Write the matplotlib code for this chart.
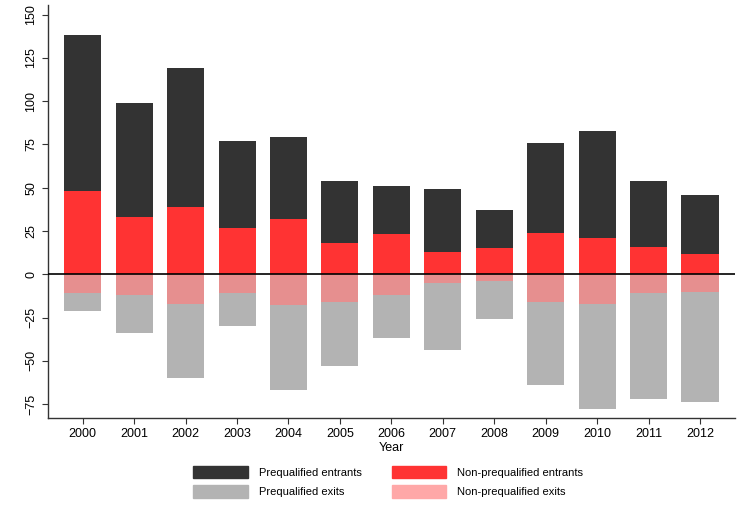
import numpy as np
import matplotlib
matplotlib.use('Agg')
import matplotlib.pyplot as plt
from matplotlib.patches import Patch

plt.rcParams['font.family'] = ['Liberation Sans', 'DejaVu Sans']

years = [2000, 2001, 2002, 2003, 2004, 2005, 2006,
         2007, 2008, 2009, 2010, 2011, 2012]
# entrants (total and the non-prequalified part)
entrants_total = [138, 99, 119, 77, 79, 54, 51, 49, 37, 76, 83, 54, 46]
entrants_nonpq = [48, 33, 39, 27, 32, 18, 23, 13, 15, 24, 21, 16, 12]
# exits (total and the non-prequalified part), shown below zero
exits_total = [21, 34, 60, 30, 67, 53, 37, 44, 26, 64, 78, 72, 74]
exits_nonpq = [11, 12, 17, 11, 18, 16, 12, 5, 4, 16, 17, 11, 10]

C_PQ_IN = '#333333'
C_NPQ_IN = '#ff3333'
C_PQ_OUT = '#b3b3b3'
C_NPQ_OUT = '#ff7f7f'

fig = plt.figure(figsize=(7.41, 5.29), dpi=100)
ax = fig.add_axes([0.0644, 0.2098, 0.9275, 0.7807])

x = np.array(years)
w = 0.72
ax.bar(x, entrants_total, width=w, color=C_PQ_IN, zorder=2)
ax.bar(x, entrants_nonpq, width=w, color=C_NPQ_IN, zorder=3)
ax.bar(x, -np.array(exits_total), width=w, color=C_PQ_OUT, zorder=2)
ax.bar(x, -np.array(exits_nonpq), width=w, color=C_NPQ_OUT, alpha=0.68,
       linewidth=0, zorder=3)
ax.axhline(0, color='black', lw=1.2, zorder=4)

ax.set_xlim(1999.32, 2012.68)
ax.set_ylim(-83, 155.5)
ax.set_yticks(np.arange(-75, 151, 25))
ax.set_xticks(x)
ax.tick_params(axis='y', labelrotation=90, labelsize=9, length=4,
               color='#333333')
ax.tick_params(axis='x', labelsize=9, length=4, color='#333333')
for lab in ax.get_yticklabels():
    lab.set_va('center')
ax.set_xlabel('Year', fontsize=9, labelpad=1)

for s in ['top', 'right']:
    ax.spines[s].set_visible(False)
for s in ['left', 'bottom']:
    ax.spines[s].set_color('#333333')
    ax.spines[s].set_linewidth(1.0)

handles = [Patch(color=C_PQ_IN), Patch(color=C_PQ_OUT),
           Patch(color=C_NPQ_IN), Patch(color='#ffa8a8')]
labels = ['Prequalified entrants', 'Prequalified exits',
          'Non-prequalified entrants', 'Non-prequalified exits']
fig.legend(handles, labels, ncol=2, loc='center',
           bbox_to_anchor=(0.524, 0.089), frameon=False, fontsize=8,
           handlelength=4.9, handleheight=1.35, columnspacing=2.7,
           handletextpad=1.0, labelspacing=0.62)

fig.savefig('out.png', dpi=100)
